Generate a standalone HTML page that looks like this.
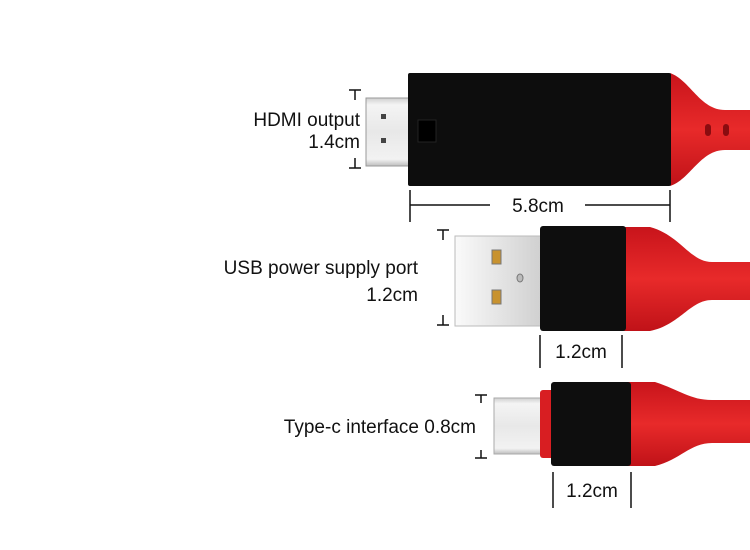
<!DOCTYPE html>
<html><head><style>body{margin:0;background:#fff}svg{display:block}text{font-family:"Liberation Sans",sans-serif;font-size:19px;fill:#111}</style></head>
<body>
<svg width="750" height="550" viewBox="0 0 750 550">
<defs>
<linearGradient id="met" x1="0" y1="0" x2="0" y2="1"><stop offset="0" stop-color="#cfcfcf"/><stop offset="0.1" stop-color="#f4f4f4"/><stop offset="0.5" stop-color="#e8e8e8"/><stop offset="0.9" stop-color="#f2f2f2"/><stop offset="1" stop-color="#bdbdbd"/></linearGradient>
<linearGradient id="usbm" x1="0" y1="0" x2="1" y2="0"><stop offset="0" stop-color="#fafafa"/><stop offset="1" stop-color="#cfcfcf"/></linearGradient>
<linearGradient id="red" x1="0" y1="0" x2="0" y2="1"><stop offset="0" stop-color="#c8141b"/><stop offset="0.5" stop-color="#e82a2a"/><stop offset="1" stop-color="#c01218"/></linearGradient>
</defs>
<!-- HDMI -->
<rect x="366" y="98" width="44" height="68" fill="url(#met)" stroke="#999"/>
<rect x="381" y="114" width="5" height="5" fill="#444"/><rect x="381" y="138" width="5" height="5" fill="#444"/>
<path d="M670 73 C690 80 700 110 725 110 L750 110 L750 150 L725 150 C700 150 690 180 670 186Z" fill="url(#red)"/>
<rect x="705" y="124" width="6" height="12" rx="3" fill="#8a0c10"/><rect x="723" y="124" width="6" height="12" rx="3" fill="#8a0c10"/>
<rect x="408" y="73" width="263" height="113" rx="2" fill="#0d0d0d"/>
<rect x="418" y="120" width="18" height="22" fill="#000" stroke="#222"/>
<!-- HDMI bracket -->
<g stroke="#111" stroke-width="1.5" fill="none">
<path d="M349 90H361M355 90V100M355 158V168M349 168H361"/>
<path d="M410 190V222M670 190V222M410 205H490M585 205H670"/>
<path d="M437 230H449M443 230V240M443 315V325M437 325H449"/>
<path d="M540 335V368M622 335V368"/>
<path d="M475 395H487M481 395V403M481 450V458M475 458H487"/>
<path d="M553 472V508M631 472V508"/>
</g>
<text x="360" y="126" text-anchor="end">HDMI output</text>
<text x="360" y="148" text-anchor="end">1.4cm</text>
<text x="538" y="212" text-anchor="middle">5.8cm</text>
<!-- USB -->
<rect x="455" y="236" width="88" height="90" fill="url(#usbm)" stroke="#bbb"/>
<rect x="492" y="250" width="9" height="14" fill="#c8922e" stroke="#777"/><rect x="492" y="290" width="9" height="14" fill="#c8922e" stroke="#777"/>
<ellipse cx="520" cy="278" rx="3" ry="4" fill="#bbb" stroke="#777"/>
<path d="M620 227 L650 227 C680 235 690 262 712 262 L750 262 L750 300 L712 300 C690 300 680 325 650 331 L620 331Z" fill="url(#red)"/>
<rect x="540" y="226" width="86" height="105" rx="3" fill="#0e0e0e"/>
<text x="418" y="274" text-anchor="end">USB power supply port</text>
<text x="418" y="301" text-anchor="end">1.2cm</text>
<text x="581" y="358" text-anchor="middle">1.2cm</text>
<!-- Type-C -->
<rect x="494" y="398" width="50" height="56" fill="url(#met)" stroke="#aaa"/>
<path d="M625 382 L655 382 C680 390 690 400 712 400 L750 400 L750 443 L712 443 C690 443 680 460 655 466 L625 466Z" fill="url(#red)"/>
<rect x="540" y="390" width="16" height="68" rx="3" fill="#d81e22"/>
<rect x="551" y="382" width="80" height="84" rx="3" fill="#0e0e0e"/>
<text x="476" y="433" text-anchor="end">Type-c interface 0.8cm</text>
<text x="592" y="497" text-anchor="middle">1.2cm</text>
</svg>
</body></html>
